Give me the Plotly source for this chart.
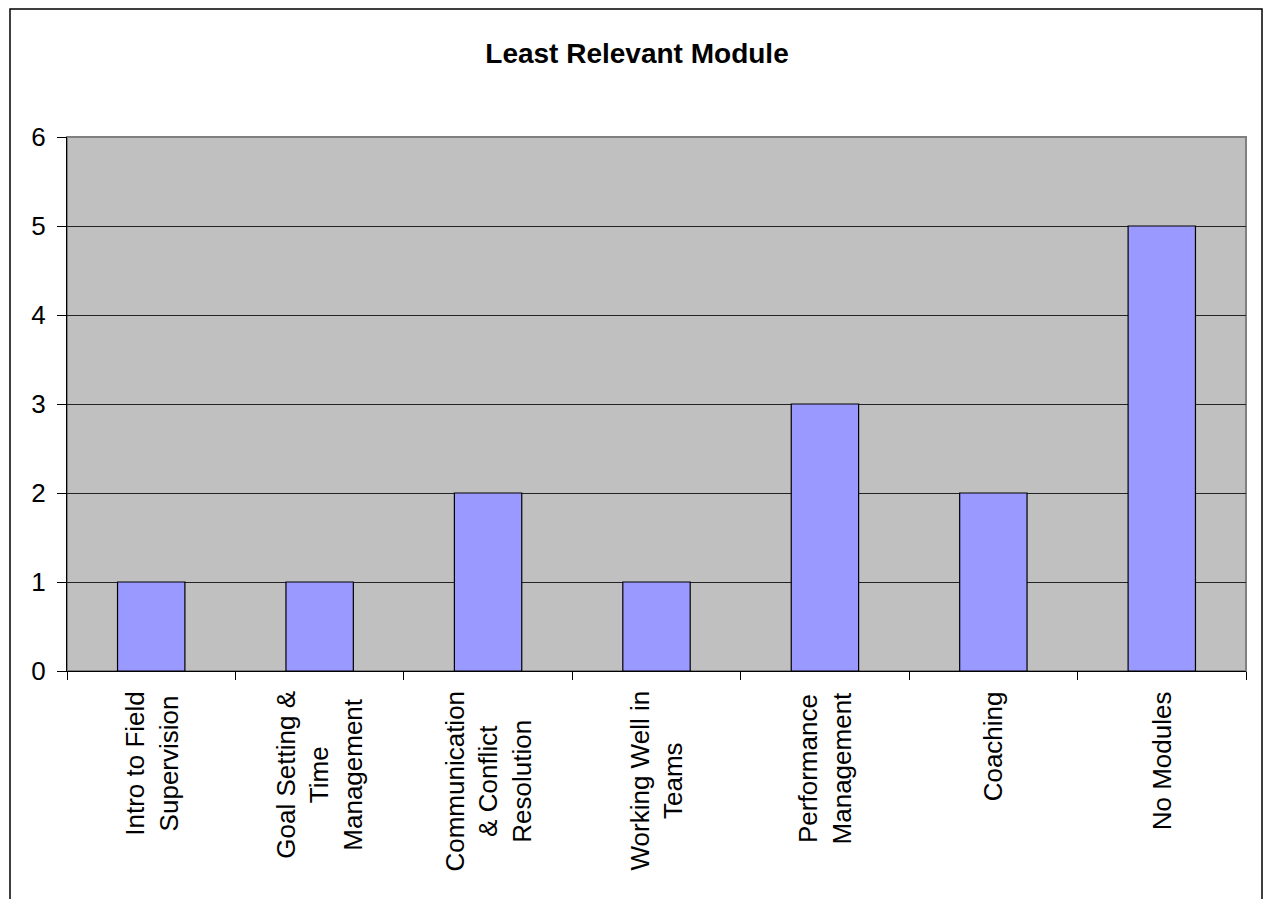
import plotly.graph_objects as go

# Data
categories = [
    "Intro to Field<br>Supervision",
    "Goal Setting &<br>Time<br>Management",
    "Communication<br>& Conflict<br>Resolution",
    "Working Well in<br>Teams",
    "Performance<br>Management",
    "Coaching",
    "No Modules",
]
values = [1, 1, 2, 1, 3, 2, 5]
y_ticks = [0, 1, 2, 3, 4, 5, 6]
title_text = "Least Relevant Module"

FONT = "Arial, Liberation Sans, sans-serif"
W, H = 1263, 899
L, R, T, B = 67, 17, 137, 228
pw, ph = W - L - R, H - T - B

fig = go.Figure()
fig.add_trace(go.Bar(
    x=categories, y=values,
    marker=dict(color="#9999FF", line=dict(color="#000000", width=1.2)),
    hoverinfo="x+y",
))

# Category labels as centered rotated annotations
for c in categories:
    fig.add_annotation(
        x=c, xref="x", y=0, yref="paper",
        text=c, textangle=-90, showarrow=False,
        xanchor="center", yanchor="top", align="center",
        yshift=-18,
        font=dict(family=FONT, size=26, color="#000000"),
    )

def px_x(p):
    return (p - L) / pw

def px_y(p):
    return (H - B - p) / ph

shapes = [
    # plot area border (gray)
    dict(type="rect", xref="paper", yref="paper", x0=0, x1=1, y0=0, y1=1,
         line=dict(color="#808080", width=2), layer="below"),
    # outer chart frame
    dict(type="rect", xref="paper", yref="paper",
         x0=px_x(10), x1=px_x(1262), y0=px_y(9), y1=px_y(920),
         line=dict(color="#000000", width=1.5)),
]

fig.update_layout(
    width=W, height=H,
    margin=dict(l=L, r=R, t=T, b=B),
    paper_bgcolor="#FFFFFF",
    plot_bgcolor="#C0C0C0",
    bargap=0.6,
    showlegend=False,
    shapes=shapes,
    title=dict(
        text="<b>" + title_text + "</b>",
        x=637 / W, xref="container", xanchor="center",
        y=1 - 53 / H, yref="container", yanchor="middle",
        font=dict(family=FONT, size=28, color="#000000"),
    ),
    xaxis=dict(
        showticklabels=False,
        showline=True, linecolor="#000000", linewidth=1.2,
        ticks="outside", tickson="boundaries", ticklen=8,
        tickcolor="#000000", tickwidth=1,
        showgrid=False, fixedrange=True,
    ),
    yaxis=dict(
        range=[0, 6], tickvals=y_ticks,
        showline=True, linecolor="#000000", linewidth=1.2,
        ticks="outside", ticklen=9, tickcolor="#000000", tickwidth=1,
        ticklabelstandoff=6,
        showgrid=True, gridcolor="#222222", gridwidth=1,
        zeroline=False,
        tickfont=dict(family=FONT, size=26, color="#000000"),
        fixedrange=True,
    ),
)

fig.write_html("out.html")
